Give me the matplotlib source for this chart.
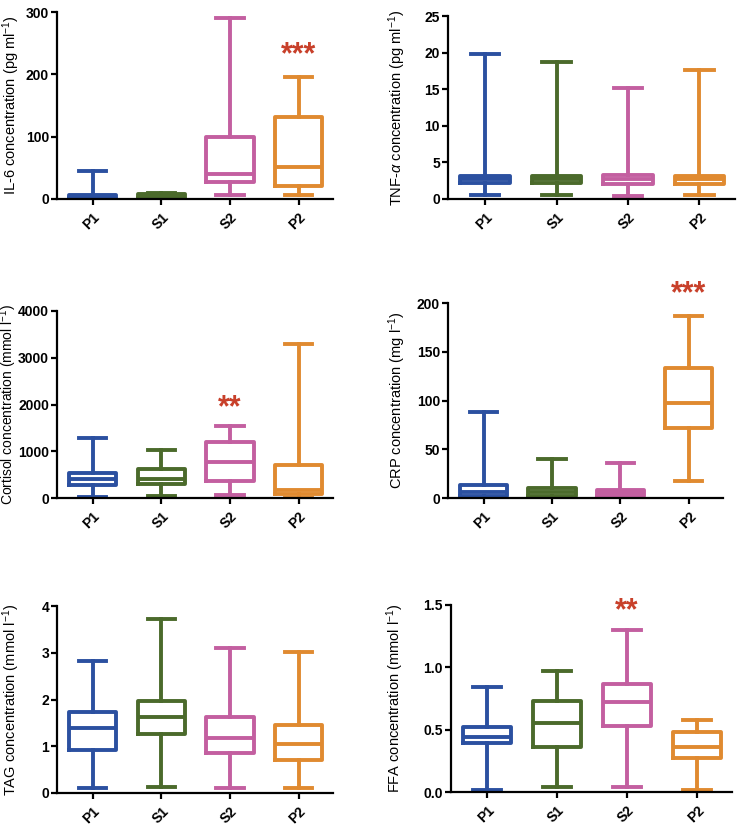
import matplotlib
matplotlib.use("Agg")
import matplotlib.pyplot as plt

plt.rcParams['font.family'] = ['Liberation Sans', 'DejaVu Sans']
plt.rcParams['mathtext.fontset'] = 'custom'
plt.rcParams['mathtext.rm'] = 'Liberation Sans'
plt.rcParams['mathtext.it'] = 'Liberation Sans:italic'

groups = ["P1", "S1", "S2", "P2"]
colors = ["#2b50a0", "#4b6a2b", "#c35fa0", "#e08a30"]
star_color = "#c8402a"

# each row: [min, q1, median, q3, max] for P1, S1, S2, P2
il6 = [[2, 2, 4, 6, 45], [1, 2, 4, 8, 10], [6, 27, 40, 99, 291], [6, 21, 52, 131, 196]]
tnf = [[0.6, 2.2, 2.7, 3.2, 19.8], [0.5, 2.2, 2.8, 3.2, 18.7],
       [0.4, 2.1, 2.7, 3.3, 15.2], [0.6, 2.1, 2.8, 3.2, 17.6]]
cortisol = [[20, 280, 400, 540, 1290], [50, 290, 400, 620, 1030],
            [70, 360, 760, 1190, 1530], [0, 80, 180, 710, 3290]]
crp = [[0, 2, 6, 13, 88], [0, 2, 6, 10, 40], [0, 2, 5, 8, 36], [17, 72, 97, 133, 187]]
tag = [[0.1, 0.92, 1.38, 1.73, 2.82], [0.12, 1.27, 1.62, 1.97, 3.72],
       [0.1, 0.85, 1.17, 1.63, 3.11], [0.1, 0.7, 1.04, 1.45, 3.02]]
ffa = [[0.02, 0.39, 0.44, 0.52, 0.84], [0.04, 0.36, 0.55, 0.73, 0.97],
       [0.04, 0.53, 0.72, 0.87, 1.30], [0.02, 0.27, 0.36, 0.48, 0.58]]

panels = [
    (il6, "IL-6 concentration (pg ml$^{-1}$)", 300, [0, 100, 200, 300], "{:.0f}", (3, "***", 230)),
    (tnf, "TNF-$\\alpha$ concentration (pg ml$^{-1}$)", 25, [0, 5, 10, 15, 20, 25], "{:.0f}", None),
    (cortisol, "Cortisol concentration (mmol l$^{-1}$)", 4000, [0, 1000, 2000, 3000, 4000], "{:.0f}", (2, "**", 1920)),
    (crp, "CRP concentration (mg l$^{-1}$)", 200, [0, 50, 100, 150, 200], "{:.0f}", (3, "***", 209)),
    (tag, "TAG concentration (mmol l$^{-1}$)", 4, [0, 1, 2, 3, 4], "{:.0f}", None),
    (ffa, "FFA concentration (mmol l$^{-1}$)", 1.5, [0, 0.5, 1.0, 1.5], "{:.1f}", (2, "**", 1.45)),
]

W, H = 738, 827
# axes boxes in pixels: left, top, right, bottom, ylabel right edge x, ylabel size
boxes = [(57, 12, 333, 199, 22, 10.5), (448, 16, 735, 199, 408, 10.5),
         (57, 311, 333, 498, 19, 10), (448, 303, 723, 498, 408, 10.5),
         (57, 606, 333, 793, 22, 10.5), (451, 605, 732, 792, 406, 10.5)]

fig = plt.figure(figsize=(W / 100, H / 100), dpi=100)

for (data, ylabel, ymax, ticks, fmt, star), (l, t, r, b, lx, lsize) in zip(panels, boxes):
    ax = fig.add_axes([l / W, 1 - b / H, (r - l) / W, (b - t) / H])
    stats = []
    for g, v in zip(groups, data):
        stats.append(dict(label=g, whislo=v[0], q1=v[1], med=v[2], q3=v[3], whishi=v[4]))
    bp = ax.bxp(stats, positions=range(4), widths=0.69, showfliers=False,
                patch_artist=False, capwidths=0.4)
    for i, c in enumerate(colors):
        bp['boxes'][i].set(color=c, linewidth=2.8)
        bp['medians'][i].set(color=c, linewidth=2.8)
        for k in (2 * i, 2 * i + 1):
            bp['whiskers'][k].set(color=c, linewidth=2.8)
            bp['caps'][k].set(color=c, linewidth=2.8)
    if star is not None:
        ax.text(star[0], star[2], star[1], color=star_color, fontsize=22,
                fontweight='bold', ha='center', va='center', clip_on=False)
    ax.set_xlim(-0.52, 3.5)
    ax.set_ylim(0, ymax)
    ax.set_yticks(ticks)
    ax.set_yticklabels([fmt.format(tk) for tk in ticks], fontweight='bold', fontsize=10)
    ax.set_xticks(range(4))
    ax.set_xticklabels(groups, rotation=45, fontweight='bold', fontsize=10,
                       ha='right', va='top', rotation_mode='anchor')
    ax.set_ylabel(ylabel, fontsize=lsize)
    ax.yaxis.set_label_coords((lx - l) / (r - l), 0.5)
    for s in ('top', 'right'):
        ax.spines[s].set_visible(False)
    for s in ('left', 'bottom'):
        ax.spines[s].set_linewidth(1.6)
    ax.tick_params(width=1.6, length=4.5)
    ax.tick_params(axis='y', pad=1.2)

fig.savefig("out.png", dpi=100)
